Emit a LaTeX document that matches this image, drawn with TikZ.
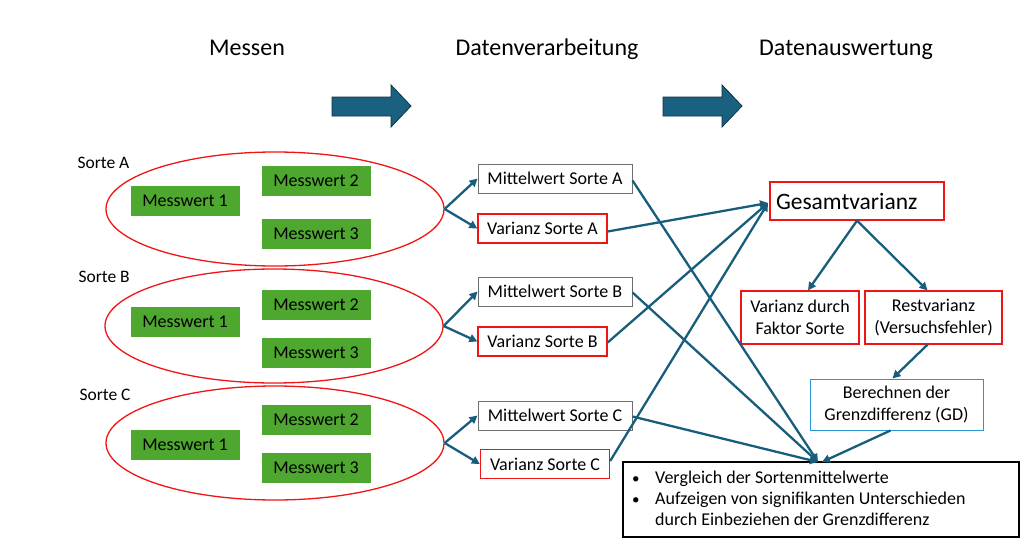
\documentclass[tikz,border=0pt]{standalone}
\usepackage{fontspec}
\setmainfont{Carlito}
\usetikzlibrary{shapes.geometric,arrows.meta,positioning}
\definecolor{conn}{RGB}{24,94,124}
\definecolor{blockfill}{RGB}{26,96,128}
\definecolor{blockdraw}{RGB}{14,48,66}
\definecolor{mgreen}{RGB}{78,167,46}
\definecolor{bred}{RGB}{240,20,20}
\definecolor{lblue}{RGB}{40,150,210}
\definecolor{bgray}{RGB}{110,110,110}
\newcommand{\mybul}{\makebox[23pt][l]{\raisebox{0.5pt}{\fontsize{15}{15}\selectfont\textbullet}}}
\tikzset{
  title/.style={font=\fontsize{24}{28}\selectfont, anchor=base},
  sorte/.style={font=\fontsize{17.5}{20}\selectfont, anchor=west},
  ell/.style={draw=bred, line width=1.3pt, ellipse, minimum width=338, minimum height=114, inner sep=0},
  mw/.style={fill=mgreen, minimum width=109, minimum height=30, inner sep=0, font=\fontsize{18}{20}\selectfont},
  mittel/.style={draw=bgray, line width=1pt, minimum width=154, minimum height=29, inner sep=0, font=\fontsize{18}{20}\selectfont},
  varbox/.style={draw=bred, line width=1.3pt, minimum width=129, minimum height=29, inner sep=0, font=\fontsize{18}{20}\selectfont},
  redbox/.style={draw=bred, line width=1.3pt, inner sep=0, align=center, font=\fontsize{18}{22}\selectfont},
  conn/.style={draw=conn, line width=2.3pt, -{Triangle[length=8pt,width=8pt]}},
  blockarrow/.style={fill=blockfill, draw=blockdraw, line width=0.8pt},
}
\begin{document}
\begin{tikzpicture}[x=1pt,y=-1pt]
\useasboundingbox (0,0) rectangle (1024,543);
% titles
\node[title] (t1) at (247,56) {Messen};
\node[title] (t2) at (547,56) {Datenverarbeitung};
\node[title] (t3) at (846,56) {Datenauswertung};
% block arrows
\draw[blockarrow] (332,97) -- (391,97) -- (391,85) -- (411,106) -- (391,127) -- (391,116) -- (332,116) -- cycle;
\draw[blockarrow] (663,97) -- (722,97) -- (722,85) -- (742,106) -- (722,127) -- (722,116) -- (663,116) -- cycle;
% Sorte labels
\node[sorte] (sa) at (74,163) {Sorte A};
\node[sorte] (sb) at (75,277) {Sorte B};
\node[sorte] (sc) at (76,395) {Sorte C};
% ellipses
\node[ell] (ea) at (275,209) {};
\node[ell] (eb) at (274,326) {};
\node[ell] (ec) at (275,443) {};
% Messwerte
\node[mw] (a1) at (185,201) {Messwert 1};
\node[mw] (a2) at (316,181) {Messwert 2};
\node[mw] (a3) at (316,234) {Messwert 3};
\node[mw] (b1) at (185,322) {Messwert 1};
\node[mw] (b2) at (316,305) {Messwert 2};
\node[mw] (b3) at (316,353) {Messwert 3};
\node[mw] (c1) at (185,445) {Messwert 1};
\node[mw] (c2) at (316,420) {Messwert 2};
\node[mw] (c3) at (316,468) {Messwert 3};
% middle column
\node[mittel] (ma) at (555,178.5) {Mittelwert Sorte A};
\node[varbox] (va) at (542.5,228.5) {Varianz Sorte A};
\node[mittel] (mb) at (555,291.5) {Mittelwert Sorte B};
\node[varbox] (vb) at (542.5,341.5) {Varianz Sorte B};
\node[mittel] (mc) at (555,415.5) {Mittelwert Sorte C};
\node[varbox] (vc) at (545,464) {Varianz Sorte C};
% right column
\node[redbox, minimum width=174, minimum height=38, font=\fontsize{23.5}{26}\selectfont, text width=162, align=left] (gv) at (857,201) {Gesamtvarianz};
\node[redbox, minimum width=118, minimum height=53] (vd) at (800,317.5) {Varianz durch\\Faktor Sorte};
\node[redbox, minimum width=137, minimum height=53] (rv) at (933.5,317.5) {Restvarianz\\(Versuchsfehler)};
\node[redbox, draw=lblue, line width=1pt, minimum width=173, minimum height=51] (gd) at (896.5,404.5) {Berechnen der\\Grenzdifferenz (GD)};
\node[draw=black, line width=2pt, minimum width=396, minimum height=75, inner sep=0] (res) at (821,499.5) {};
\node[anchor=north west, inner sep=0, font=\fontsize{18}{21}\selectfont, align=left] (restext) at (632,471) {%
\mybul Vergleich der Sortenmittelwerte\\
\mybul Aufzeigen von signifikanten Unterschieden\\
\hspace*{23pt}durch Einbeziehen der Grenzdifferenz};
% coordinates
\coordinate (gvin) at (768,203);
\coordinate (resin) at (818,462);
% connectors ellipse -> boxes
\draw[conn] (ea.east) -- (ma.west);
\draw[conn] (ea.east) -- (va.west);
\draw[conn] (eb.east) -- (mb.west);
\draw[conn] (eb.east) -- (vb.west);
\draw[conn] (ec.east) -- (mc.west);
\draw[conn] (ec.east) -- (vc.west);
% to Gesamtvarianz
\draw[conn] ([yshift=-3]va.east) -- (gvin);
\draw[conn] ([yshift=-1]vb.east) -- (gvin);
\draw[conn] ([yshift=3]vc.east) -- (gvin);
% to result
\draw[conn] ([yshift=-2]ma.east) -- (resin);
\draw[conn] ([yshift=-1]mb.east) -- (resin);
\draw[conn] ([yshift=-1]mc.east) -- (resin);
% right column
\draw[conn] (gv.south) -- ([xshift=8]vd.north);
\draw[conn] (gv.south) -- ([xshift=-6]rv.north);
\draw[conn] ([xshift=-6]rv.south) -- ([xshift=-4]gd.north);
\draw[conn] ([xshift=-6]gd.south) -- ([xshift=4]resin);
\end{tikzpicture}
\end{document}
